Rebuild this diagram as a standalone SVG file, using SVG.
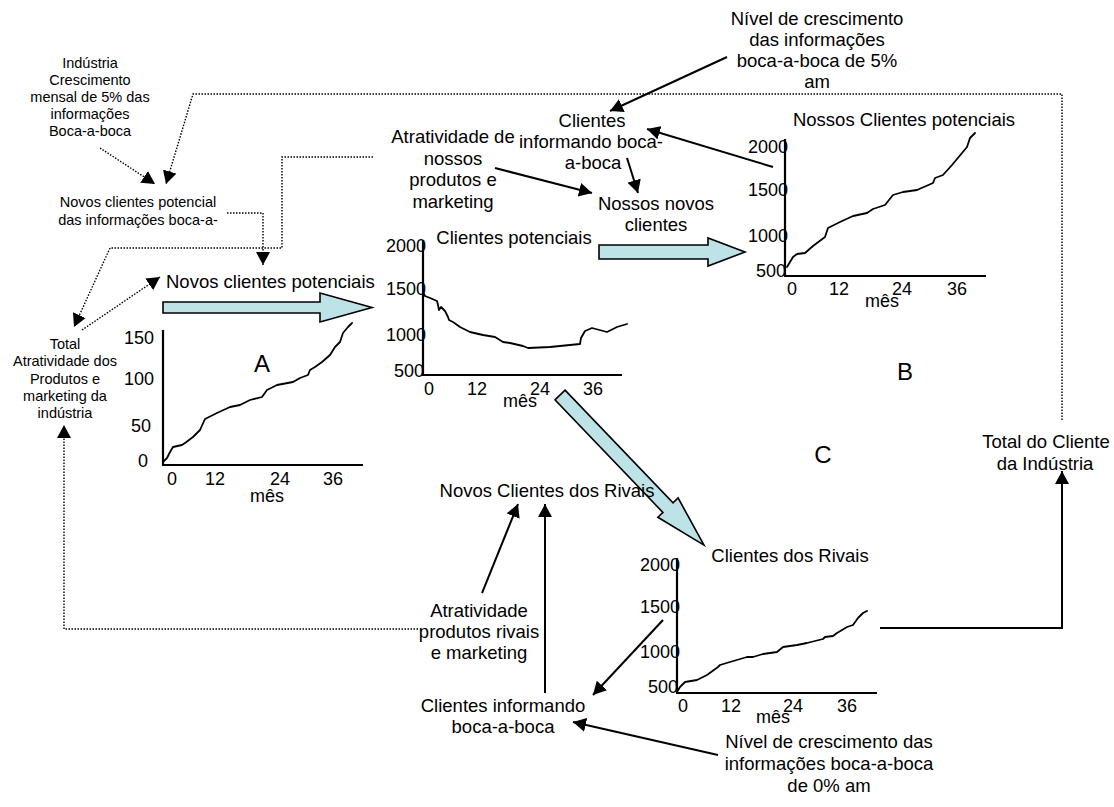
<svg xmlns="http://www.w3.org/2000/svg" width="1114" height="807" viewBox="0 0 1114 807">
<style>
text{font-family:"Liberation Sans",Arial,sans-serif;fill:#000}
.l{font-size:18.5px}
.s{font-size:14.5px}
.t{font-size:18px}
.big{font-size:24px}
.m{text-anchor:middle}
.e{text-anchor:end}
.solid{fill:none;stroke:#000;stroke-width:2}
.dot{fill:none;stroke:#000;stroke-width:1.4;stroke-dasharray:1.5 1.5}
.axis{fill:none;stroke:#000;stroke-width:2.2}
.curve{fill:none;stroke:#000;stroke-width:1.8;stroke-linejoin:round;stroke-linecap:round}
.blk{fill:#bde3e6;stroke:#000;stroke-width:1.6;stroke-linejoin:miter}
</style>
<defs>
<marker id="ah" markerUnits="userSpaceOnUse" markerWidth="14" markerHeight="14" refX="13" refY="7" orient="auto">
<path d="M0,0 L13,7 L0,14 z" fill="#000"/>
</marker>
</defs>

<g id="connectors">
<!-- dotted -->
<polyline class="dot" points="100,148 155,184" marker-end="url(#ah)"/>
<polyline class="dot" points="1062,420 1062,94 193,94 166,184" marker-end="url(#ah)"/>
<polyline class="dot" points="227,213 263,213 263,265" marker-end="url(#ah)"/>
<polyline class="dot" points="373,157 282,157 282,248 110,248 74,327" marker-end="url(#ah)"/>
<polyline class="dot" points="82,330 160,277" marker-end="url(#ah)"/>
<polyline class="dot" points="418,629 64,629 64,425" marker-end="url(#ah)"/>
<!-- solid -->
<line class="solid" x1="727" y1="57" x2="610" y2="111" marker-end="url(#ah)"/>
<line class="solid" x1="773" y1="167" x2="647" y2="129" marker-end="url(#ah)"/>
<line class="solid" x1="495" y1="168" x2="592" y2="193" marker-end="url(#ah)"/>
<line class="solid" x1="627" y1="158" x2="638" y2="193" marker-end="url(#ah)"/>
<line class="solid" x1="482" y1="593" x2="518" y2="504" marker-end="url(#ah)"/>
<line class="solid" x1="545" y1="693" x2="545" y2="504" marker-end="url(#ah)"/>
<line class="solid" x1="663" y1="620" x2="593" y2="695" marker-end="url(#ah)"/>
<line class="solid" x1="718" y1="755" x2="573" y2="722" marker-end="url(#ah)"/>
<polyline class="solid" points="880,628 1062,628 1062,471" marker-end="url(#ah)"/>
<!-- block arrows -->
<polygon class="blk" points="163,302 320,302 320,293 372,307.5 320,322 320,313 163,313"/>
<polygon class="blk" points="599,245 708,245 708,238 745,252 708,266 708,259 599,259"/>
<polygon class="blk" transform="translate(560,395) rotate(46.2)" points="0,-7 156,-7 156,-14 208,0 156,14 156,7 0,7"/>
</g>

<g id="n-industria-crescimento">
<text class="s m" x="90" y="68">Indústria</text>
<text class="s m" x="90" y="85">Crescimento</text>
<text class="s m" x="90" y="102">mensal de 5% das</text>
<text class="s m" x="90" y="119">informações</text>
<text class="s m" x="90" y="136">Boca-a-boca</text>
</g>

<g id="n-novos-potencial">
<text class="s m" x="138" y="207">Novos clientes potencial</text>
<text class="s m" x="138" y="225">das informações boca-a-</text>
</g>

<g id="n-total-atratividade">
<text class="s m" x="65" y="349">Total</text>
<text class="s m" x="65" y="366">Atratividade dos</text>
<text class="s m" x="65" y="384">Produtos e</text>
<text class="s m" x="65" y="401">marketing da</text>
<text class="s m" x="65" y="418">indústria</text>
</g>

<g id="n-novos-clientes-potenciais">
<text class="l" x="166" y="288">Novos clientes potenciais</text>
</g>

<g id="n-nivel-5">
<text class="l m" x="817" y="25">Nível de crescimento</text>
<text class="l m" x="817" y="46">das informações</text>
<text class="l m" x="817" y="67">boca-a-boca de 5%</text>
<text class="l m" x="817" y="88">am</text>
</g>

<g id="n-clientes-informando-top">
<text class="l m" x="592" y="127">Clientes</text>
<text class="l m" x="591" y="148">informando boca-</text>
<text class="l m" x="593" y="169">a-boca</text>
</g>

<g id="n-atratividade-nossos">
<text class="l m" x="453" y="143">Atratividade de</text>
<text class="l m" x="453" y="165">nossos</text>
<text class="l m" x="453" y="186">produtos e</text>
<text class="l m" x="453" y="208">marketing</text>
</g>

<g id="n-nossos-novos">
<text class="l m" x="656" y="210">Nossos novos</text>
<text class="l m" x="656" y="231">clientes</text>
</g>

<g id="chart-a">
<line class="axis" x1="163" y1="330" x2="163" y2="465"/>
<line class="axis" x1="162" y1="465" x2="363" y2="465"/>
<text class="t e" x="154" y="344">150</text>
<text class="t e" x="154" y="385">100</text>
<text class="t e" x="151" y="432">50</text>
<text class="t e" x="148" y="467">0</text>
<text class="t m" x="172" y="485">0</text>
<text class="t m" x="215" y="485">12</text>
<text class="t m" x="280" y="485">24</text>
<text class="t m" x="333" y="485">36</text>
<text class="t m" x="267" y="502">mês</text>
<text class="big m" x="262" y="372">A</text>
<polyline class="curve" points="163,462 167,458 170,452 173,447 182,445 185,443 193,437 200,430 205,419 217,413 230,407 240,405 250,400 262,397 267,390 277,385 293,382 300,378 308,375 310,370 315,367 322,362 330,355 335,347 340,342 343,333 348,327 352,323"/>
</g>

<g id="chart-clientes-potenciais">
<text class="l m" x="514" y="244">Clientes potenciais</text>
<line class="axis" x1="423" y1="240" x2="423" y2="375"/>
<line class="axis" x1="422" y1="375" x2="622" y2="375"/>
<text class="t e" x="426" y="252">2000</text>
<text class="t e" x="426" y="295">1500</text>
<text class="t e" x="426" y="341">1000</text>
<text class="t e" x="424" y="377">500</text>
<text class="t m" x="429" y="395">0</text>
<text class="t m" x="477" y="395">12</text>
<text class="t m" x="540" y="395">24</text>
<text class="t m" x="593" y="395">36</text>
<text class="t m" x="520" y="407">mês</text>
<polyline class="curve" points="423,292 425,296 430,298 437,301 438,305 439,310 441,307 445,311 448,317 449,320 453,322 460,327 470,332 483,335 495,337 503,342 510,343 523,346 528,348 550,347 570,345 580,344 581,338 585,331 592,328 607,332 617,327 627,324"/>
</g>

<g id="chart-b">
<text class="l m" x="904" y="126">Nossos Clientes potenciais</text>
<line class="axis" x1="785" y1="139" x2="785" y2="276"/>
<line class="axis" x1="784" y1="276" x2="986" y2="276"/>
<text class="t e" x="788" y="153">2000</text>
<text class="t e" x="788" y="196">1500</text>
<text class="t e" x="788" y="242">1000</text>
<text class="t e" x="786" y="277">500</text>
<text class="t m" x="792" y="295">0</text>
<text class="t m" x="839" y="295">12</text>
<text class="t m" x="902" y="295">24</text>
<text class="t m" x="957" y="295">36</text>
<text class="t m" x="882" y="307">mês</text>
<text class="big m" x="905" y="380">B</text>
<polyline class="curve" points="787,267 793,257 797,254 805,253 813,246 825,237 828,228 840,222 853,216 867,213 873,209 885,205 893,195 903,192 917,190 933,183 935,178 943,175 952,165 962,153 967,147 970,138 975,133"/>
</g>

<g id="n-c">
<text class="big m" x="823" y="463">C</text>
</g>

<g id="n-total-cliente">
<text class="l m" x="1046" y="448">Total do Cliente</text>
<text class="l m" x="1045" y="470">da Indústria</text>
</g>

<g id="chart-c">
<text class="l m" x="790" y="562">Clientes dos Rivais</text>
<line class="axis" x1="677" y1="558" x2="677" y2="693"/>
<line class="axis" x1="676" y1="693" x2="877" y2="693"/>
<text class="t e" x="680" y="571">2000</text>
<text class="t e" x="680" y="613">1500</text>
<text class="t e" x="680" y="658">1000</text>
<text class="t e" x="678" y="693">500</text>
<text class="t m" x="683" y="712">0</text>
<text class="t m" x="731" y="712">12</text>
<text class="t m" x="793" y="712">24</text>
<text class="t m" x="847" y="712">36</text>
<text class="t m" x="773" y="723">mês</text>
<polyline class="curve" points="677,692 680,687 685,682 697,680 707,675 718,667 720,665 730,662 747,657 753,657 763,654 777,652 783,647 797,645 807,643 823,639 825,637 833,636 837,633 847,627 853,625 858,618 863,613 867,611"/>
</g>

<g id="n-novos-rivais">
<text class="l m" x="547" y="497">Novos Clientes dos Rivais</text>
</g>

<g id="n-atratividade-rivais">
<text class="l m" x="479" y="617">Atratividade</text>
<text class="l m" x="479" y="638">produtos rivais</text>
<text class="l m" x="479" y="659">e marketing</text>
</g>

<g id="n-clientes-informando-bottom">
<text class="l m" x="503" y="712">Clientes informando</text>
<text class="l m" x="503" y="733">boca-a-boca</text>
</g>

<g id="n-nivel-0">
<text class="l m" x="829" y="748">Nível de crescimento das</text>
<text class="l m" x="829" y="770">informações boca-a-boca</text>
<text class="l m" x="829" y="792">de 0% am</text>
</g>
</svg>
